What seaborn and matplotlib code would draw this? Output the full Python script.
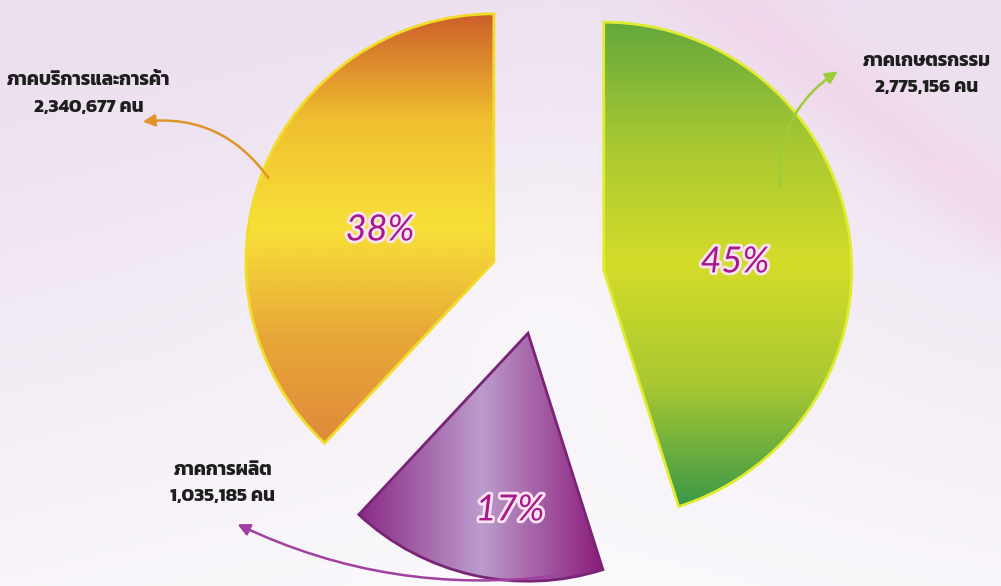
import numpy as np
import matplotlib
matplotlib.use("Agg")
import matplotlib.pyplot as plt
import matplotlib.patheffects as pe
from matplotlib import font_manager
from matplotlib.ft2font import FT2Font
from matplotlib.colors import LinearSegmentedColormap
import seaborn as sns

# Data
sectors = ["ภาคเกษตรกรรม", "ภาคการผลิต", "ภาคบริการและการค้า"]
workers = [2775156, 1035185, 2340677]
pct_labels = ["45%", "17%", "38%"]
count_labels = ["2,775,156 คน", "1,035,185 คน", "2,340,677 คน"]

# Styling
sns.set_theme(style="white")


def thai_fonts():
    # families with Thai glyphs, those with a bold face first
    found = {}
    for f in font_manager.fontManager.ttflist:
        try:
            if FT2Font(f.fname).get_char_index(ord("ก")):
                w = f.weight if isinstance(f.weight, int) else 400
                found[f.name] = max(found.get(f.name, 0), w)
        except Exception:
            pass
    return sorted(found, key=lambda n: -found[n])


thai = thai_fonts()
plt.rcParams["font.family"] = (thai[:1] or []) + ["DejaVu Sans"]

fig = plt.figure(figsize=(10.01, 5.86), dpi=100)
ax = fig.add_axes([0, 0, 1, 1])

wedges, _ = ax.pie(
    workers,
    startangle=90,
    counterclock=False,
    explode=[0.26, 0.22, 0.20],
    radius=1.0,
    colors=["#9cc83a", "#a058a8", "#f0c030"],
    wedgeprops=dict(linewidth=2),
)

# one pie radius ~ 248 px, pie centre at ~(540, 280) px
R_PX = 248
cx_px, cy_px = 540, 280
ax.set_xlim(-cx_px / R_PX, (1001 - cx_px) / R_PX)
ax.set_ylim(-(586 - cy_px) / R_PX, cy_px / R_PX)
ax.set_aspect("equal", adjustable="datalim")
ax.axis("off")

# Background: lavender at the top, fading to white below, pink swoosh top right
x0, x1 = ax.get_xlim()
y0, y1 = ax.get_ylim()
yy, xx = np.mgrid[0:1:300j, 0:1:500j]
lav = np.array([0.925, 0.875, 0.935])
white = np.array([0.985, 0.98, 0.99])
pink = np.array([0.95, 0.82, 0.91])
d = np.clip(0.9 - yy * 0.9 + 0.35 * np.abs(xx - 0.55)
            - 0.25 * np.exp(-((xx - 0.55) ** 2 + (yy - 0.5) ** 2) / 0.05), 0, 1)[..., None]
bg = white * (1 - d) + lav * d
band = np.exp(-((yy * 1.1 - (xx - 0.72) * 1.4) ** 2) / 0.01) * (xx > 0.6) * (yy < 0.45)
bg = bg * (1 - 0.6 * band[..., None]) + pink * 0.6 * band[..., None]
ax.imshow(bg[::-1], extent=(x0, x1, y0, y1), origin="lower", aspect="auto", zorder=0)

# Gradient fills, colours listed top->bottom ("v") or left->right ("h")
edge_cols = ["#e0ec30", "#7a2478", "#f2dc2a"]
grads = [
    (["#64a83c", "#a8c832", "#d4dc28", "#a8c832", "#3a9848"], "v"),
    (["#8a2a86", "#bc9ccc", "#8a1a7a"], "h"),
    (["#cc5e2a", "#f0c030", "#f8e038", "#e8a838", "#e08a3a"], "v"),
]
g = np.linspace(0, 1, 256)
for w, ec, (cols, orient) in zip(wedges, edge_cols, grads):
    bb = w.get_path().get_extents(w.get_patch_transform())
    cmap = LinearSegmentedColormap.from_list("g", cols)
    img = g[::-1, None] * np.ones((1, 8)) if orient == "v" else g[None, :] * np.ones((8, 1))
    im = ax.imshow(img, cmap=cmap, extent=(bb.x0, bb.x1, bb.y0, bb.y1),
                   origin="lower", aspect="auto", zorder=2.5)
    im.set_clip_path(w)
    w.set_facecolor("none")
    w.set_edgecolor(ec)
    w.set_zorder(3)

ax.set_xlim(x0, x1)
ax.set_ylim(y0, y1)

# Percent labels inside slices
pct_pos = [(0.786, 0.073), (-0.121, -0.927), (-0.645, 0.202)]
for (px, py), lab in zip(pct_pos, pct_labels):
    ax.text(px, py, lab, ha="center", va="center", fontsize=26, style="italic",
            color="#a8188a", zorder=5, family=["Lato", "DejaVu Sans"],
            path_effects=[pe.withStroke(linewidth=4, foreground="#fbe4f2")])

# Sector labels with curved arrows
label_pos = [(1.56, 0.83), (-1.28, -0.82), (-1.82, 0.75)]
arrow_from = [(0.968, 0.363), (0.08, -1.19), (-1.089, 0.403)]
arrow_to = [(1.210, 0.847), (-1.23, -0.98), (-1.613, 0.637)]
arrow_cols = ["#9ccc3a", "#a040a0", "#e0942a"]
rads = [-0.3, -0.15, 0.3]
for name, cnt, (lx, ly), a0, a1, ac, rad in zip(sectors, count_labels, label_pos,
                                                 arrow_from, arrow_to, arrow_cols, rads):
    ax.text(lx, ly, name + "\n" + cnt, ha="center", va="center", fontsize=13.5,
            fontweight="bold", color="#1e1e1e", linespacing=1.7, zorder=5)
    ax.annotate("", xy=a1, xytext=a0, zorder=4,
                arrowprops=dict(arrowstyle="-|>,head_length=0.6,head_width=0.3",
                                color=ac, lw=1.8, connectionstyle=f"arc3,rad={rad}"))

fig.savefig("out.png", dpi=100)
